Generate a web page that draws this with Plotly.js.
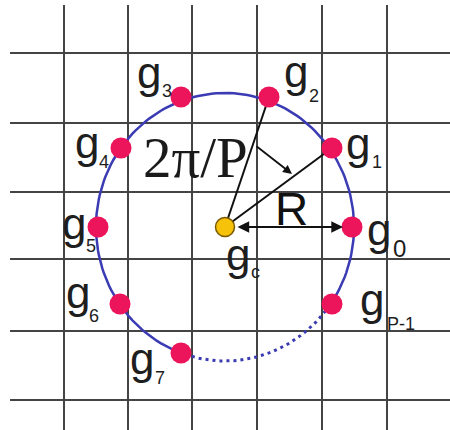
<!DOCTYPE html>
<html>
<head>
<meta charset="utf-8">
<script src="https://cdn.plot.ly/plotly-3.0.1.min.js"></script>
<style>html,body{margin:0;padding:0;background:#fff;}#chart{width:450px;height:430px;}</style>
</head>
<body>
<div id="chart"></div>
<script>
// Grid lines (pixel-like diagram units)
const gridX = [64, 128, 192, 257, 322, 387];
const gridY = [53, 123, 192, 259, 331, 400];

// Circular neighbourhood
const centerX = 225, centerY = 227;
const radiusX = 129, radiusY = 134;
const solidArcs = [[0, 252], [324, 360]];
const dottedArc = [252, 324];

// Neighbour sample points g0..g7, gP-1
const ptNames = ['g0', 'g1', 'g2', 'g3', 'g4', 'g5', 'g6', 'g7', 'gP-1'];
const ptX = [352, 332, 269, 181, 121, 98, 120, 181, 332];
const ptY = [227, 148, 97, 97, 148, 227, 304, 353, 304];

// Labels: main glyph and subscript
const labMain = ['g', 'g', 'g', 'g', 'g', 'g', 'g', 'g', 'g', 'g'];
const labSub = ['0', '1', '2', '3', '4', '5', '6', '7', 'P-1', 'c'];
const labX = [379, 358, 296, 149, 87, 74, 78, 142, 372, 238];
const labY = [238, 152, 80, 81, 151, 232, 301, 367, 308, 263];
const subX = [399, 377, 314, 167, 104, 91, 94, 160, 401, 255];
const subY = [248, 162, 96, 91, 162, 246, 316, 378, 324, 272];

// Construction texts
const angleText = '2\u03c0/P';
const radiusText = 'R';

function arc(a0, a1) {
  const xs = [], ys = [];
  for (let a = a0; a <= a1 + 1e-9; a += 2) {
    const t = a * Math.PI / 180;
    xs.push(centerX + radiusX * Math.cos(t));
    ys.push(centerY - radiusY * Math.sin(t));
  }
  return {xs, ys};
}

const blue = '#3b3bb3';
const traces = [];
solidArcs.forEach(r => {
  const a = arc(r[0], r[1]);
  traces.push({x: a.xs, y: a.ys, mode: 'lines', line: {color: blue, width: 2.5}, hoverinfo: 'skip'});
});
const d = arc(dottedArc[0], dottedArc[1]);
traces.push({x: d.xs, y: d.ys, mode: 'lines', line: {color: blue, width: 3, dash: '3px,4px'}, hoverinfo: 'skip'});
// radius lines from centre to g1 and g2
[1, 2].forEach(i => {
  traces.push({x: [centerX, ptX[i]], y: [centerY, ptY[i]], mode: 'lines', line: {color: '#111', width: 2}, hoverinfo: 'skip'});
});
traces.push({x: ptX, y: ptY, text: ptNames, mode: 'markers', marker: {color: '#ec145a', size: 21, line: {width: 0}}, hoverinfo: 'text'});
traces.push({x: [centerX], y: [centerY], mode: 'markers', marker: {color: '#f7c20a', size: 19, line: {color: '#7a5a00', width: 1.5}}, hoverinfo: 'skip'});

const ann = [];
const sans = '"Liberation Sans", Arial, sans-serif';
for (let i = 0; i < labMain.length; i++) {
  ann.push({x: labX[i], y: labY[i] - 9, xref: 'x', yref: 'y', text: labMain[i], showarrow: false,
    xanchor: 'center', yanchor: 'middle', font: {family: sans, size: 44, color: '#1e1e1e'}});
  ann.push({x: subX[i], y: subY[i], xref: 'x', yref: 'y', text: labSub[i], showarrow: false,
    xanchor: 'center', yanchor: 'middle', font: {family: sans, size: i === 0 ? 24 : 18, color: '#1e1e1e'}});
}
ann.push({x: 195, y: 157, xref: 'x', yref: 'y', text: angleText, showarrow: false,
  xanchor: 'center', yanchor: 'middle', font: {family: '"Liberation Serif", "Times New Roman", serif', size: 57, color: '#1a1a1a'}});
ann.push({x: 291, y: 209, xref: 'x', yref: 'y', text: radiusText, showarrow: false,
  xanchor: 'center', yanchor: 'middle', font: {family: sans, size: 46, color: '#111'}});
// angle arrow
ann.push({x: 292, y: 174, ax: 255, ay: 145, xref: 'x', yref: 'y', axref: 'x', ayref: 'y', text: '',
  showarrow: true, arrowhead: 2, arrowsize: 1, arrowwidth: 1.8, arrowcolor: '#111'});
// radius double arrow
ann.push({x: 343, y: 227, ax: 236, ay: 227, xref: 'x', yref: 'y', axref: 'x', ayref: 'y', text: '',
  showarrow: true, arrowhead: 2, startarrowhead: 2, arrowside: 'end+start', arrowsize: 1.3, startarrowsize: 1.3, arrowwidth: 1.8, arrowcolor: '#111'});

const layout = {
  width: 450, height: 430,
  margin: {l: 10, r: 0, t: 5, b: 0, pad: 0},
  paper_bgcolor: '#fff', plot_bgcolor: '#fff',
  showlegend: false,
  xaxis: {range: [10, 450], tickvals: gridX, showgrid: true, gridcolor: '#444', gridwidth: 2.5,
    showticklabels: false, ticks: '', zeroline: false, showline: false, fixedrange: true},
  yaxis: {range: [430, 5], tickvals: gridY, showgrid: true, gridcolor: '#444', gridwidth: 2.5,
    showticklabels: false, ticks: '', zeroline: false, showline: false, fixedrange: true},
  annotations: ann
};
Plotly.newPlot('chart', traces, layout, {displayModeBar: false, staticPlot: true});
</script>
</body>
</html>
